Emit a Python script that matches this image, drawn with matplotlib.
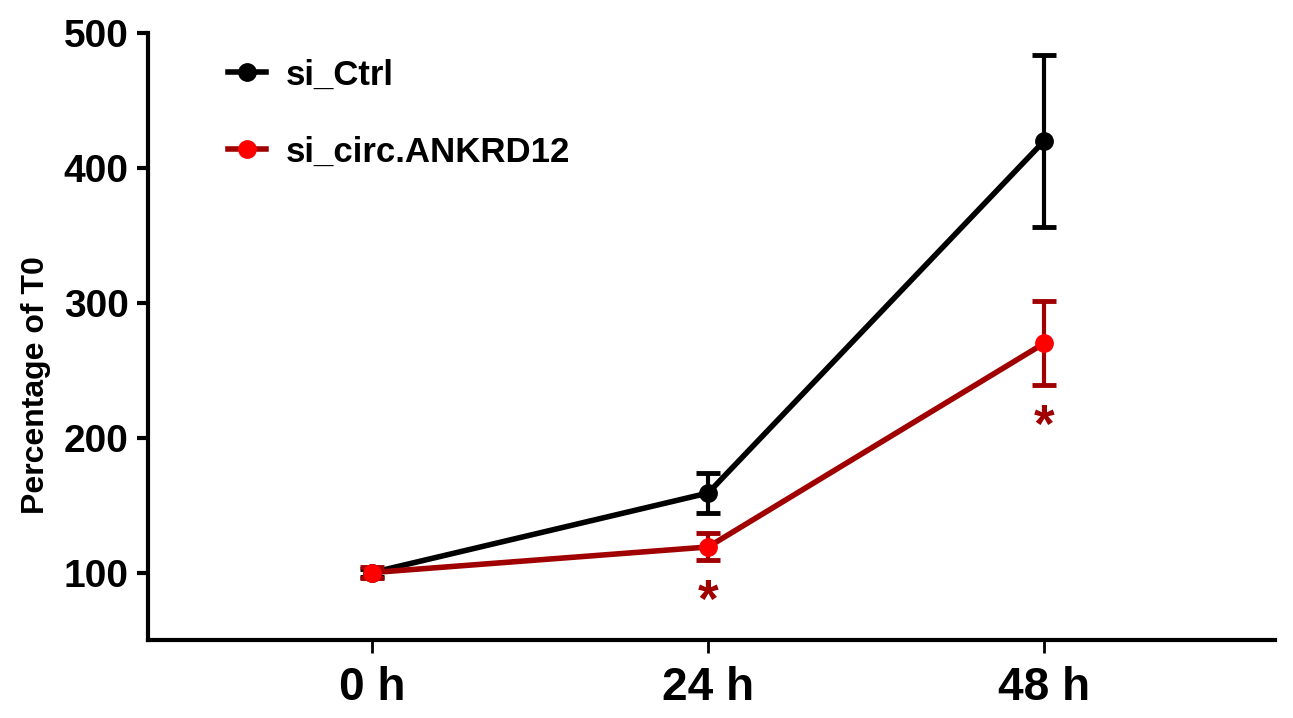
import matplotlib

matplotlib.use("Agg")
import matplotlib.pyplot as plt
from matplotlib.lines import Line2D

# data
time_labels = ["0 h", "24 h", "48 h"]
ctrl_mean = [100, 159, 420]
ctrl_err = [3, 15, 64]
circ_mean = [100, 119, 270]
circ_err = [4, 10, 31]
significant = [False, True, True]

plt.rcParams["font.family"] = ["Liberation Sans", "DejaVu Sans"]
plt.rcParams["font.weight"] = "bold"

dark_red = "#a00000"
bright_red = "#ff0000"

fig = plt.figure(figsize=(12.93, 7.18), dpi=100)
ax = fig.add_axes([0.1145, 0.1086, 0.8716, 0.8454])

xs = list(range(len(time_labels)))

ax.errorbar(xs, ctrl_mean, yerr=ctrl_err, color="black", lw=4,
            marker="o", markersize=12.5, elinewidth=3, capsize=8.5,
            capthick=3.5, zorder=3)
ax.errorbar(xs, circ_mean, yerr=circ_err, color=dark_red, lw=4,
            marker="o", markersize=12.5, markerfacecolor=bright_red,
            markeredgecolor=bright_red, ecolor=dark_red, elinewidth=3,
            capsize=8.5, capthick=3.5, zorder=4)

# significance stars under the knockdown error bars
for x, m, e, s in zip(xs, circ_mean, circ_err, significant):
    if s:
        ax.annotate("*", xy=(x, m - e), xytext=(0, -41), textcoords="offset points",
                    ha="center", va="baseline", fontsize=38, color=dark_red,
                    fontweight="bold")

ax.set_xlim(-0.667, 2.687)
ax.set_ylim(50, 500)
ax.set_xticks(xs)
ax.set_xticklabels(time_labels, fontsize=33, fontweight="bold")
ax.set_yticks([100, 200, 300, 400, 500])
ax.tick_params(axis="y", labelsize=28, width=3, length=8, pad=6)
ax.tick_params(axis="x", width=2, length=9, pad=10)
for lab in ax.get_yticklabels():
    lab.set_fontweight("bold")

ax.spines["top"].set_visible(False)
ax.spines["right"].set_visible(False)
ax.spines["left"].set_linewidth(3)
ax.spines["bottom"].set_linewidth(3)

ax.set_ylabel("Percentage of T0", fontsize=23, fontweight="bold")
ax.yaxis.set_label_coords(-0.086, 0.42)

handles = [
    Line2D([], [], color="black", lw=4, marker="o", markersize=12.5),
    Line2D([], [], color=dark_red, lw=4, marker="o", markersize=12.5,
           markerfacecolor=bright_red, markeredgecolor=bright_red),
]
ax.legend(handles, ["si_Ctrl", "si_circ.ANKRD12"], loc="upper left",
          bbox_to_anchor=(0.071, 0.958), frameon=False, fontsize=25,
          handlelength=1.1, handletextpad=0.55, labelspacing=1.27,
          borderpad=0, borderaxespad=0)

fig.savefig("out.png", dpi=100)
plt.close(fig)
